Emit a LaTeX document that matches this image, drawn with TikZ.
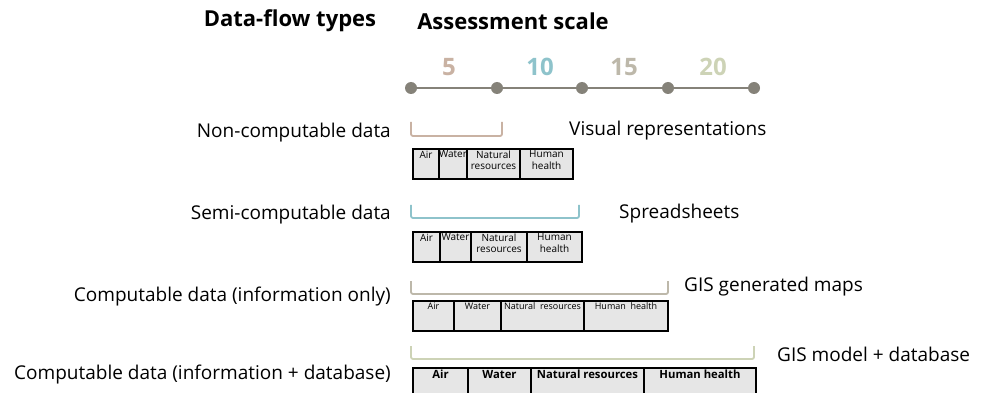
\documentclass[tikz,border=0pt]{standalone}
\usepackage{fontspec}
\setmainfont{Open Sans}
\definecolor{scalegray}{HTML}{858279}
\definecolor{cfive}{HTML}{C9B2A3}
\definecolor{cten}{HTML}{8EC3CB}
\definecolor{cfifteen}{HTML}{BDB8AA}
\definecolor{ctwenty}{HTML}{CDD3B6}
\definecolor{cellfill}{HTML}{E6E6E6}
\tikzset{
	dot/.style={circle,fill=scalegray,inner sep=0pt,minimum size=12pt},
	title/.style={font=\bfseries\fontsize{22}{24}\selectfont,inner sep=0pt},
	num/.style={font=\bfseries\fontsize{24}{26}\selectfont,inner sep=0pt},
	rowlabel/.style={anchor=east,font=\fontsize{19}{21}\selectfont,inner sep=0pt},
	kind/.style={anchor=west,font=\fontsize{19}{21}\selectfont,inner sep=0pt},
	cell/.style={draw=black,line width=1.8pt,fill=cellfill,anchor=north west,inner sep=0pt,outer sep=0pt},
	bracket/.style={line width=1.8pt,rounded corners=2pt},
	celltext/.style={label={[anchor=north,inner sep=1.5pt,align=center,font=\fontsize{10}{11.5}\selectfont]north:{#1}}},
	midtext/.style={label={[anchor=north,inner sep=1.5pt,font=\fontsize{9}{10}\selectfont]north:{#1}}},
	big/.style={label={[anchor=north,inner sep=2pt,font=\bfseries\fontsize{11.3}{13}\selectfont]north:{#1}}},
}
\begin{document}
\begin{tikzpicture}[x=1pt,y=-1pt]
	\useasboundingbox (0,0) rectangle (986,393);
	\clip (0,0) rectangle (986,393);
	% titles
	\node[title] (ttypes) at (290,21) {Data-flow types};
	\node[title] (tscale) at (513,21) {Assessment scale};
	% scale
	\foreach \i/\x in {0/411,1/497,2/582,3/668,4/754}
		\node[dot] (d\i) at (\x,88) {};
	\draw[scalegray,line width=1.8pt] (d0)--(d1)--(d2)--(d3)--(d4);
	\node[num,text=cfive] (n5) at (449,67) {5};
	\node[num,text=cten] (n10) at (540,67) {10};
	\node[num,text=cfifteen] (n15) at (624,67) {15};
	\node[num,text=ctwenty] (n20) at (713,67) {20};
	% row 1
	\node[rowlabel] (l1) at (391,133) {Non-computable data};
	\draw[bracket,cfive] (411,122) -- (411,136) -- (502,136) -- (502,122);
	\node[kind] (k1) at (569,131) {Visual representations};
	\node[cell,minimum width=26,minimum height=30,celltext={Air}] (a1) at (413,149) {};
	\node[cell,minimum width=28,minimum height=30,celltext={Water}] (w1) at (a1.north east) {};
	\node[cell,minimum width=53,minimum height=30,celltext={Natural\\resources}] (r1) at (w1.north east) {};
	\node[cell,minimum width=53,minimum height=30,celltext={Human\\health}] (h1) at (r1.north east) {};
	% row 2
	\node[rowlabel] (l2) at (391,215) {Semi-computable data};
	\draw[bracket,cten] (411,205) -- (411,218) -- (579,218) -- (579,205);
	\node[kind] (k2) at (619,214) {Spreadsheets};
	\node[cell,minimum width=27,minimum height=30,celltext={Air}] (a2) at (413,232) {};
	\node[cell,minimum width=31,minimum height=30,celltext={Water}] (w2) at (a2.north east) {};
	\node[cell,minimum width=56,minimum height=30,celltext={Natural\\resources}] (r2) at (w2.north east) {};
	\node[cell,minimum width=55,minimum height=30,celltext={Human\\health}] (h2) at (r2.north east) {};
	% row 3
	\node[rowlabel] (l3) at (391,297) {Computable data (information only)};
	\draw[bracket,cfifteen] (411,281) -- (411,294) -- (668,294) -- (668,281);
	\node[kind] (k3) at (684,287) {GIS generated maps};
	\node[cell,minimum width=41,minimum height=30,midtext={Air}] (a3) at (413,301) {};
	\node[cell,minimum width=47,minimum height=30,midtext={Water}] (w3) at (a3.north east) {};
	\node[cell,minimum width=83,minimum height=30,midtext={Natural\ \ resources}] (r3) at (w3.north east) {};
	\node[cell,minimum width=84,minimum height=30,midtext={Human\ \ health}] (h3) at (r3.north east) {};
	% row 4
	\node[rowlabel] (l4) at (391,375) {Computable data (information + database)};
	\draw[bracket,ctwenty] (411,346) -- (411,359) -- (754,359) -- (754,346);
	\node[kind] (k4) at (777,354) {GIS model + database};
	\node[cell,minimum width=55,minimum height=34,big={Air}] (a4) at (413,368) {};
	\node[cell,minimum width=63,minimum height=34,big={Water}] (w4) at (a4.north east) {};
	\node[cell,minimum width=113,minimum height=34,big={Natural resources}] (r4) at (w4.north east) {};
	\node[cell,minimum width=112,minimum height=34,big={Human health}] (h4) at (r4.north east) {};
\end{tikzpicture}
\end{document}
